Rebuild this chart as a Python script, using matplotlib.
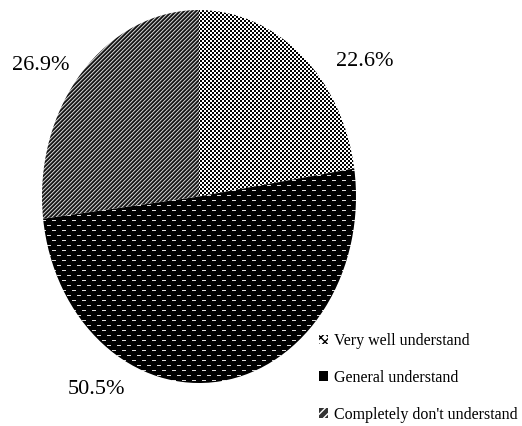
import numpy as np
import matplotlib.pyplot as plt
from matplotlib.patches import Patch

plt.rcParams['font.family'] = ['Liberation Serif', 'DejaVu Serif']

labels = ['Very well understand', 'General understand', "Completely don't understand"]
shares = [22.6, 50.5, 26.9]
pct_text = ['22.6%', '50.5%', '26.9%']

W_PX, H_PX = 522, 426
fig = plt.figure(figsize=(W_PX / 100, H_PX / 100), dpi=100)

# pie is slightly taller than wide in the original, so axes aspect is free
ax_l, ax_t, ax_w, ax_h = 42, 10, 314, 373
ax = fig.add_axes([ax_l / W_PX, 1 - (ax_t + ax_h) / H_PX, ax_w / W_PX, ax_h / H_PX])
wedges, _ = ax.pie(shares, startangle=90, counterclock=False, radius=1,
                   wedgeprops=dict(linewidth=0, facecolor='none'))

# pixel textures, one per slice
yy, xx = np.mgrid[0:ax_h, 0:ax_w]
checker = np.where(((xx // 2) + (yy // 2)) % 2 == 0, 0.0, 1.0)
dashes = np.zeros((ax_h, ax_w))
row_on = (yy % 5 == 0)
shift = ((yy // 5) % 2) * 5
dashes[row_on & (((xx + shift) % 10) < 4)] = 0.85
diag_vals = np.array([0.75, 0.35, 0.08, 0.18])
diag = diag_vals[(xx + yy) % 4]
textures = [checker, dashes, diag]

for wedge, tex in zip(wedges, textures):
    im = ax.imshow(tex, cmap='gray', vmin=0, vmax=1, extent=(-1, 1, -1, 1),
                   interpolation='nearest', aspect='auto', zorder=1)
    im.set_clip_path(wedge)

ax.set_aspect('auto')
ax.set_xlim(-1, 1)
ax.set_ylim(-1, 1)
ax.axis('off')

# percentage labels (pixel centres)
label_px = [(365, 62), (96, 390), (41, 66)]
for txt, (px, py) in zip(pct_text, label_px):
    fig.text(px / W_PX, 1 - py / H_PX, txt, fontsize=16, ha='center', va='center')

handles = [
    Patch(facecolor='white', edgecolor='black', hatch='xxxx', linewidth=0),
    Patch(facecolor='black', edgecolor='black', linewidth=0),
    Patch(facecolor='#333333', edgecolor='white', hatch='////', linewidth=0),
]
fig.legend(handles, labels, loc='upper left', bbox_to_anchor=(319 / W_PX, 1 - 333 / H_PX),
           frameon=False, fontsize=11.5, handlelength=0.55, handleheight=0.55,
           handletextpad=0.4, labelspacing=1.3, borderpad=0, borderaxespad=0)

fig.savefig('out.png', dpi=100)
